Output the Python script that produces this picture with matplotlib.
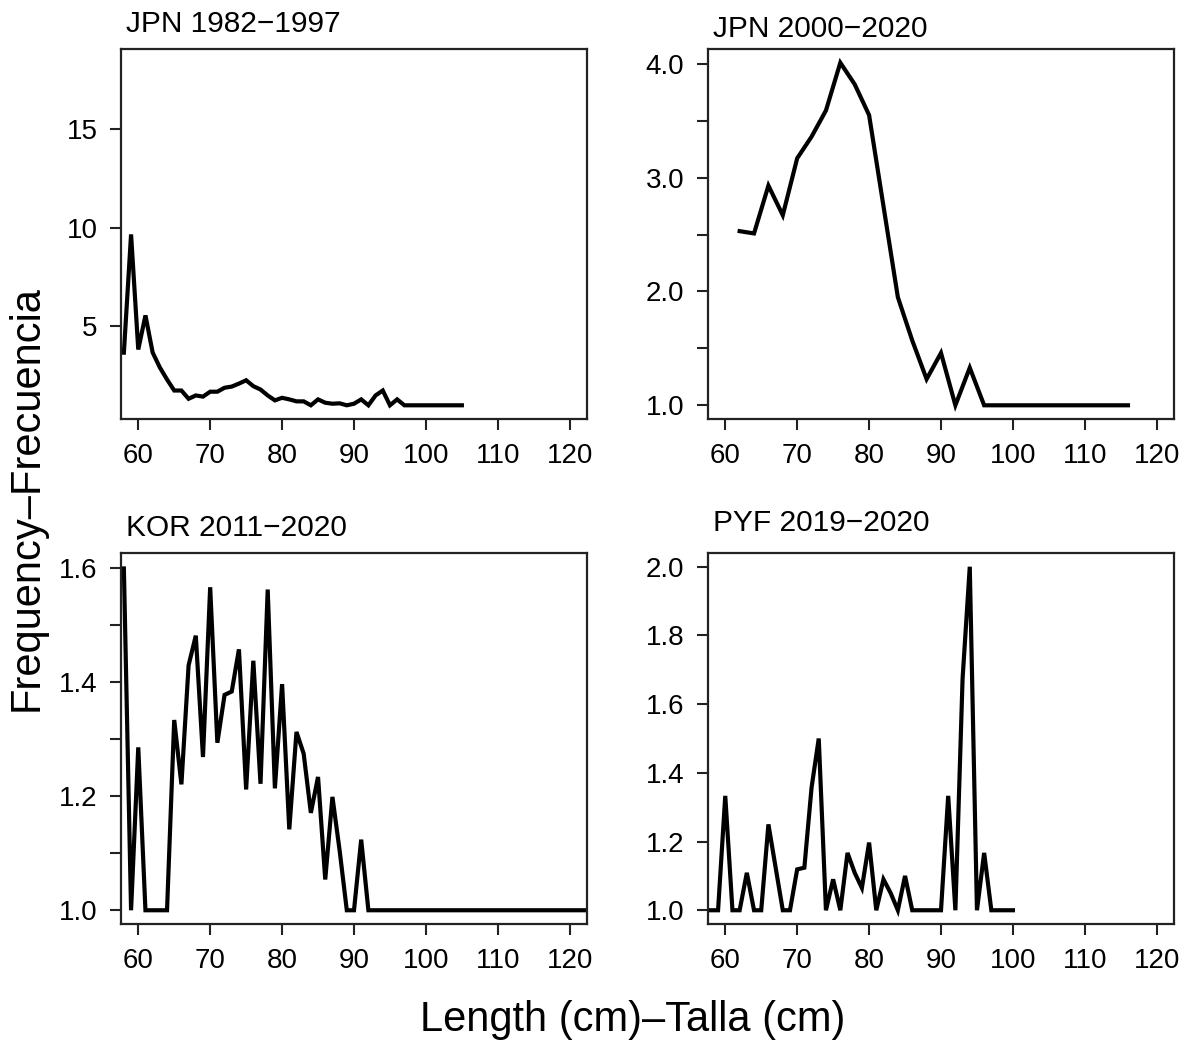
import matplotlib
matplotlib.use("Agg")
import matplotlib.pyplot as plt
import numpy as np

plt.rcParams['font.family'] = ['Liberation Sans', 'DejaVu Sans']

# JPN 1982-1997 (1 cm bins)
jpn1_len = list(range(58, 106))
jpn1_freq = [3.67, 9.67, 3.83, 5.56, 3.68, 2.92, 2.31, 1.75, 1.75, 1.33,
             1.5, 1.44, 1.69, 1.69, 1.89, 1.95, 2.1, 2.27, 1.97, 1.8,
             1.5, 1.25, 1.38, 1.3, 1.2, 1.2, 1.0, 1.3, 1.13, 1.08,
             1.1, 1.0, 1.08, 1.3, 1.0, 1.5, 1.75, 1.0, 1.3, 1.0,
             1.0, 1.0, 1.0, 1.0, 1.0, 1.0, 1.0, 1.0]

# JPN 2000-2020 (2 cm bins)
jpn2_len = list(range(62, 118, 2))
jpn2_freq = [2.53, 2.51, 2.93, 2.67, 3.17, 3.36, 3.59, 4.01, 3.82, 3.55,
             2.75, 1.95, 1.57, 1.23, 1.46, 1.0, 1.33, 1.0, 1.0, 1.0,
             1.0, 1.0, 1.0, 1.0, 1.0, 1.0, 1.0, 1.0]

# KOR 2011-2020
kor_len = list(range(58, 126))
kor_freq = [1.6, 1.0, 1.286, 1.0, 1.0, 1.0, 1.0, 1.334, 1.221, 1.43,
            1.482, 1.269, 1.567, 1.294, 1.378, 1.384, 1.458, 1.212, 1.438, 1.222,
            1.563, 1.214, 1.397, 1.142, 1.313, 1.275, 1.171, 1.234, 1.054, 1.199,
            1.105, 1.0, 1.0, 1.124, 1.0] + [1.0] * 33

# PYF 2019-2020
pyf_len = list(range(58, 101))
pyf_freq = [1.0, 1.0, 1.333, 1.0, 1.0, 1.109, 1.0, 1.0, 1.25, 1.125,
            1.0, 1.0, 1.119, 1.124, 1.357, 1.5, 1.0, 1.09, 1.0, 1.167,
            1.109, 1.065, 1.197, 1.0, 1.09, 1.05, 1.0, 1.1, 1.0, 1.0,
            1.0, 1.0, 1.0, 1.333, 1.0, 1.674, 2.0, 1.0, 1.167, 1.0,
            1.0, 1.0, 1.0]

titles = ['JPN 1982\u22121997', 'JPN 2000\u22122020', 'KOR 2011\u22122020', 'PYF 2019\u22122020']
xticks = [60, 70, 80, 90, 100, 110, 120]


def r_lim(lo, hi):
    d = (hi - lo) * 0.04
    return lo - d, hi + d


fig = plt.figure(figsize=(11.88, 10.46), dpi=100)
W, H = 1188.0, 1046.0
boxes = [(121, 49, 587, 419), (708, 49, 1174, 419),
         (121, 553, 587, 924), (708, 553, 1174, 924)]

series = [(jpn1_len, jpn1_freq), (jpn2_len, jpn2_freq),
          (kor_len, kor_freq), (pyf_len, pyf_freq)]
ylims = [(1, 18.38), (1, 4.01), (1, 1.603), (1, 2.0)]
yticks = [
    ([5, 10, 15], ['5', '10', '15']),
    ([1.0, 1.5, 2.0, 2.5, 3.0, 3.5, 4.0], ['1.0', '', '2.0', '', '3.0', '', '4.0']),
    ([1.0, 1.1, 1.2, 1.3, 1.4, 1.5, 1.6], ['1.0', '', '1.2', '', '1.4', '', '1.6']),
    ([1.0, 1.2, 1.4, 1.6, 1.8, 2.0], ['1.0', '1.2', '1.4', '1.6', '1.8', '2.0']),
]
title_off = [17, 12, 17, 22]

for i, (l, t, r, b) in enumerate(boxes):
    ax = fig.add_axes([l / W, 1 - b / H, (r - l) / W, (b - t) / H])
    x, y = series[i]
    ax.plot(x, y, color='black', lw=3.0, solid_joinstyle='miter')
    ax.set_xlim(r_lim(60, 120))
    ax.set_ylim(r_lim(*ylims[i]))
    ax.set_xticks(xticks)
    ax.set_xticklabels([str(v) for v in xticks])
    ax.set_yticks(yticks[i][0])
    ax.set_yticklabels(yticks[i][1])
    ax.tick_params(direction='out', length=8, width=1.5, labelsize=20, pad=9,
                   color='#222222')
    for s in ax.spines.values():
        s.set_linewidth(1.6)
        s.set_color('#222222')
    ax.text(0.01, 1 + title_off[i] / (b - t), titles[i], transform=ax.transAxes,
            fontsize=21.5, ha='left', va='baseline')

fig.text(633 / W, 1 - 1020 / H, 'Length (cm)\u2013Talla (cm)', fontsize=30,
         ha='center', va='center')
fig.text(27 / W, 1 - 498 / H, 'Frequency\u2013Frecuencia', fontsize=30,
         ha='center', va='center', rotation=90)

fig.savefig('out.png', dpi=100)
